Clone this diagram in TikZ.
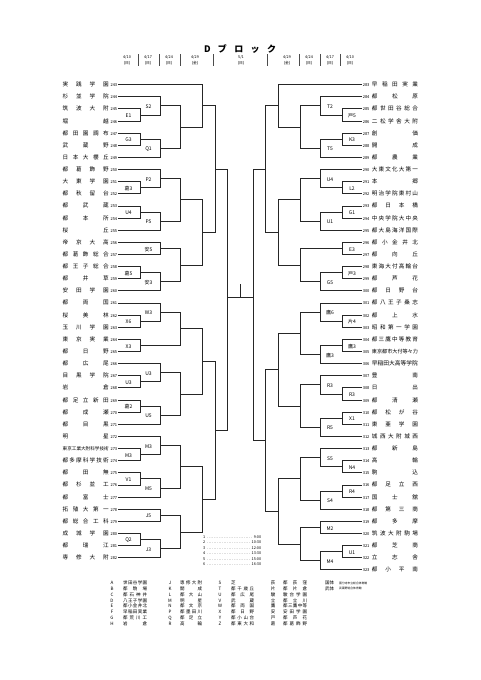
\documentclass[tikz,border=0pt]{standalone}
\usepackage{fontspec}
\setmainfont{Noto Sans CJK JP}
\usepackage{graphicx}
\usetikzlibrary{calc}

% spread the characters of a name over a box
\def\sprd#1#2\relax{#1\ifx\relax#2\relax\else\hfill\sprd#2\relax\fi}
\newcommand{\namebox}[3]{%
  \setbox0=\hbox{#3}%
  \ifdim\wd0>#2\resizebox{#1}{!}{#3}%
  \else\makebox[#1][s]{\expandafter\sprd#3\relax}\fi}
\newcommand{\numfont}{\fontsize{4}{4}\selectfont}

\tikzset{
  team/.style={inner sep=0.6pt, font=\fontsize{5.6}{6}\selectfont},
  bracket/.style={line width=0.55pt, black!85},
  glabel/.style={inner sep=0pt, font=\fontsize{5}{5}\selectfont},
  head/.style={inner sep=0pt, font=\fontsize{3.8}{4}\selectfont},
  legend/.style={inner sep=0pt, font=\fontsize{4.5}{5}\selectfont}
}

% one game: winner, column, upper and lower entry
\newcommand{\game}[4]{%
  \draw[bracket] (#3) -- (#3 -| #2) -- (#4 -| #2) -- (#4);
  \coordinate (#1) at ($(#3 -| #2)!0.5!(#4 -| #2)$);}
\newcommand{\lgame}[5]{\game{#1}{#2}{#3}{#4}\node[glabel] at ($(#1)+(-11.5,1)$) {#5};}
\newcommand{\rgame}[5]{\game{#1}{#2}{#3}{#4}\node[glabel] at ($(#1)+(10,1)$) {#5};}

\begin{document}
\begin{tikzpicture}[x=1pt, y=-1pt]
\useasboundingbox (0,0) rectangle (481,680);

% title and dates
\node[inner sep=0pt, font=\fontsize{9}{9}\selectfont\bfseries] (title) at (240,49)
  {\makebox[72pt][s]{D\hfill ブ\hfill ロ\hfill ッ\hfill ク}};
\foreach \x/\d/\w in {127/4\slash 10/日, 148/4\slash 17/日, 169/4\slash 24/日, 195/4\slash 29/金,
                      241/5\slash 1/日, 287/4\slash 29/金, 309/4\slash 24/日, 330/4\slash 17/日, 350/4\slash 10/日}{
  \node[head] at (\x,57.5) {\d};
  \node[head] at (\x,63.5) {(\w)};
}
\foreach \x in {138,159,180,213,267,299,320,340}
  \draw[line width=0.5pt, black!70] (\x,54) -- (\x,66);

% columns
\coordinate (L1) at (140,0); \coordinate (L2) at (160,0); \coordinate (L3) at (180,0);
\coordinate (L4) at (202,0); \coordinate (L5) at (215,0); \coordinate (L6) at (227,0);
\coordinate (R1) at (342,0); \coordinate (R2) at (320,0); \coordinate (R3) at (300,0);
\coordinate (R4) at (278,0); \coordinate (R5) at (265,0); \coordinate (R6) at (253,0);

% teams, left
\foreach \tn/\tm in {243/実践学園, 244/杉並学院, 245/筑波大附, 246/堀越, 247/都田園調布,
  248/武蔵野, 249/日本大櫻丘, 250/都葛飾野, 251/大東学園, 252/都秋留台, 253/都武蔵,
  254/都本所, 255/桜丘, 256/帝京大高, 257/都葛飾総合, 258/都王子総合, 259/都井草,
  260/安田学園, 261/都両国, 262/桜美林, 263/玉川学園, 264/東京実業, 265/都日野,
  266/都広尾, 267/目黒学院, 268/岩倉, 269/都足立新田, 270/都成瀬, 271/都目黒, 272/明星,
  273/東京工業大附科学技術, 274/都多摩科学技術, 275/都田無, 276/都杉並工, 277/都富士,
  278/拓殖大第一, 279/都総合工科, 280/成城学園, 281/都瑞江, 282/専修大附}
  \node[team, anchor=east] (t\tn) at (118,{84.5+(\tn-243)*12.13})
    {\namebox{46pt}{40pt}{\tm}\hspace{1.8pt}{\numfont\tn}};

% teams, right
\foreach \tn/\tm in {283/早稲田実業, 284/都松原, 285/都世田谷総合, 286/二松学舎大附, 287/創価,
  288/開成, 289/都農業, 290/大東文化大第一, 291/本郷, 292/明治学院東村山, 293/都日本橋,
  294/中央学院大中央, 295/都大島海洋国際, 296/都小金井北, 297/都向丘, 298/東海大付高輪台,
  299/都芦花, 300/都日野台, 301/都八王子桑志, 302/都上水, 303/昭和第一学園,
  304/都三鷹中等教育, 305/東京都市大付等々力, 306/早稲田大高等学院, 307/豊南, 308/日出,
  309/都清瀬, 310/都松が谷, 311/東亜学園, 312/城西大附城西, 313/都新島, 314/高輪,
  315/駒込, 316/都足立西, 317/国士舘, 318/都第三商, 319/都多摩, 320/筑波大附駒場,
  321/都芝商, 322/立志舎, 323/都小平南}
  \node[team, anchor=west] (t\tn) at (362,{84.5+(\tn-283)*12.13})
    {{\numfont\tn}\hspace{2.5pt}\namebox{46pt}{40pt}{\tm}};

% left half
\lgame{e1}{L1}{t245.east}{t246.east}{E1}
\lgame{s2}{L2}{t244.east}{e1}{S2}
\lgame{g3}{L1}{t247.east}{t248.east}{G3}
\lgame{q1}{L2}{g3}{t249.east}{Q1}
\game{la3}{L3}{s2}{q1}
\game{la4}{L4}{t243.east}{la3}
\lgame{k3}{L1}{t251.east}{t252.east}{葛3}
\lgame{p2}{L2}{t250.east}{k3}{P2}
\lgame{u4}{L1}{t253.east}{t254.east}{U4}
\lgame{p5}{L2}{u4}{t255.east}{P5}
\game{lb3}{L3}{p2}{p5}
\lgame{y5}{L2}{t256.east}{t257.east}{安5}
\lgame{k5}{L1}{t258.east}{t259.east}{葛5}
\lgame{y3}{L2}{k5}{t260.east}{安3}
\game{lc3}{L3}{y5}{y3}
\game{lbc4}{L4}{lb3}{lc3}
\game{l5a}{L5}{la4}{lbc4}
\lgame{x6}{L1}{t262.east}{t263.east}{X6}
\lgame{w3}{L2}{t261.east}{x6}{W3}
\lgame{x3}{L1}{t264.east}{t265.east}{X3}
\game{ld3}{L3}{w3}{x3}
\lgame{u3a}{L1}{t267.east}{t268.east}{U3}
\lgame{u3b}{L2}{t266.east}{u3a}{U3}
\lgame{k2}{L1}{t269.east}{t270.east}{葛2}
\lgame{u5}{L2}{k2}{t271.east}{U5}
\game{le3}{L3}{u3b}{u5}
\game{lde4}{L4}{ld3}{le3}
\lgame{m3a}{L1}{t273.east}{t274.east}{M3}
\lgame{m3b}{L2}{t272.east}{m3a}{M3}
\lgame{v1}{L1}{t275.east}{t276.east}{V1}
\lgame{m5}{L2}{v1}{t277.east}{M5}
\game{lf3}{L3}{m3b}{m5}
\lgame{j5}{L2}{t278.east}{t279.east}{J5}
\lgame{q2}{L1}{t280.east}{t281.east}{Q2}
\lgame{j3}{L2}{q2}{t282.east}{J3}
\game{lg3}{L3}{j5}{j3}
\game{lfg4}{L4}{lf3}{lg3}
\game{l5b}{L5}{lde4}{lfg4}
\draw[bracket] (l5a) -- (l5a -| L6) -- (l5b -| L6) -- (l5b);

% right half
\rgame{h5}{R1}{t285.west}{t286.west}{戸5}
\rgame{t2}{R2}{t284.west}{h5}{T2}
\rgame{k3r}{R1}{t287.west}{t288.west}{K3}
\rgame{t5}{R2}{k3r}{t289.west}{T5}
\game{ra3}{R3}{t2}{t5}
\game{ra4}{R4}{t283.west}{ra3}
\rgame{l2}{R1}{t291.west}{t292.west}{L2}
\rgame{u4r}{R2}{t290.west}{l2}{U4}
\rgame{g1}{R1}{t293.west}{t294.west}{G1}
\rgame{u1r}{R2}{g1}{t295.west}{U1}
\game{rb3}{R3}{u4r}{u1r}
\rgame{e3}{R1}{t296.west}{t297.west}{E3}
\rgame{h3}{R1}{t298.west}{t299.west}{戸3}
\rgame{g5}{R2}{h3}{t300.west}{G5}
\game{rc3}{R3}{e3}{g5}
\game{rbc4}{R4}{rb3}{rc3}
\game{r5a}{R5}{ra4}{rbc4}
\rgame{ka4}{R1}{t302.west}{t303.west}{片4}
\rgame{ta6}{R2}{t301.west}{ka4}{鷹6}
\rgame{ta3a}{R1}{t304.west}{t305.west}{鷹3}
\rgame{ta3b}{R2}{ta3a}{t306.west}{鷹3}
\game{rd3}{R3}{ta6}{ta3b}
\rgame{r3a}{R1}{t308.west}{t309.west}{R3}
\rgame{r3b}{R2}{t307.west}{r3a}{R3}
\rgame{x1}{R1}{t310.west}{t311.west}{X1}
\rgame{r5}{R2}{x1}{t312.west}{R5}
\game{re3}{R3}{r3b}{r5}
\game{rde4}{R4}{rd3}{re3}
\rgame{n4}{R1}{t314.west}{t315.west}{N4}
\rgame{s5}{R2}{t313.west}{n4}{S5}
\rgame{r4}{R1}{t316.west}{t317.west}{R4}
\rgame{s4}{R2}{r4}{t318.west}{S4}
\game{rf3}{R3}{s5}{s4}
\rgame{m2}{R2}{t319.west}{t320.west}{M2}
\rgame{u1b}{R1}{t321.west}{t322.west}{U1}
\rgame{m4}{R2}{u1b}{t323.west}{M4}
\game{rg3}{R3}{m2}{m4}
\game{rfg4}{R4}{rf3}{rg3}
\game{r5b}{R5}{rde4}{rfg4}
\draw[bracket] (r5a) -- (r5a -| R6) -- (r5b -| R6) -- (r5b);

% final
\coordinate (fin) at (240,297);
\coordinate (champ) at (240,284);
\draw[bracket] (fin -| L6) -- (fin -| R6);
\draw[bracket] (fin) -- (champ);

% starting times
\foreach \i/\t in {1/9:00, 2/10:30, 3/12:00, 4/13:30, 5/15:00, 6/16:30}
  \node[head, anchor=west] (time\i) at (203,{531.5+5.5*\i})
    {\makebox[58pt]{\i\hspace{1pt}\dotfill\hspace{1pt}\t}};

% venues
\foreach \c/\v [count=\k from 0] in {A/世田谷学園, B/都駒場, C/都石神井, D/八王子学園,
  E/都小金井北, F/早稲田実業, G/都荒川工, H/岩倉}{
  \node[legend] (va\k) at (112,{583+5.8*\k}) {\c};
  \node[legend, anchor=west] at (123,{583+5.8*\k}) {\namebox{24pt}{40pt}{\v}};
}
\foreach \c/\v [count=\k from 0] in {J/専修大附, K/開成, L/都大山, M/明星,
  N/都文京, P/都墨田川, Q/都足立, R/高輪}{
  \node[legend] (vb\k) at (170,{583+5.8*\k}) {\c};
  \node[legend, anchor=west] at (180,{583+5.8*\k}) {\namebox{22pt}{40pt}{\v}};
}
\foreach \c/\v [count=\k from 0] in {S/芝, T/都千歳丘, U/都広尾, V/武蔵,
  W/都両国, X/都日野, Y/都小山台, Z/都東大和}{
  \node[legend] (vc\k) at (220,{583+5.8*\k}) {\c};
  \node[legend, anchor=west] at (231,{583+5.8*\k}) {\namebox{23pt}{40pt}{\v}};
}
\foreach \c/\v [count=\k from 0] in {荻/都荻窪, 片/都片倉, 駿/駿台学園, 立/都立川,
  鷹/都三鷹中等, 安/安田学園, 戸/都芦花, 葛/都葛飾野}{
  \node[legend] (vd\k) at (273,{583+5.8*\k}) {\c};
  \node[legend, anchor=west] at (283,{583+5.8*\k}) {\namebox{24pt}{40pt}{\v}};
}
\node[legend, anchor=west] (ve0) at (325,583) {国体};
\node[legend, anchor=west] (ve1) at (325,588.8) {武体};
\node[inner sep=0pt, anchor=west, font=\fontsize{2.8}{3}\selectfont] at (339,583) {国分寺市立総合体育館};
\node[inner sep=0pt, anchor=west, font=\fontsize{2.8}{3}\selectfont] at (339,588.8) {武蔵野総合体育館};
\end{tikzpicture}
\end{document}
